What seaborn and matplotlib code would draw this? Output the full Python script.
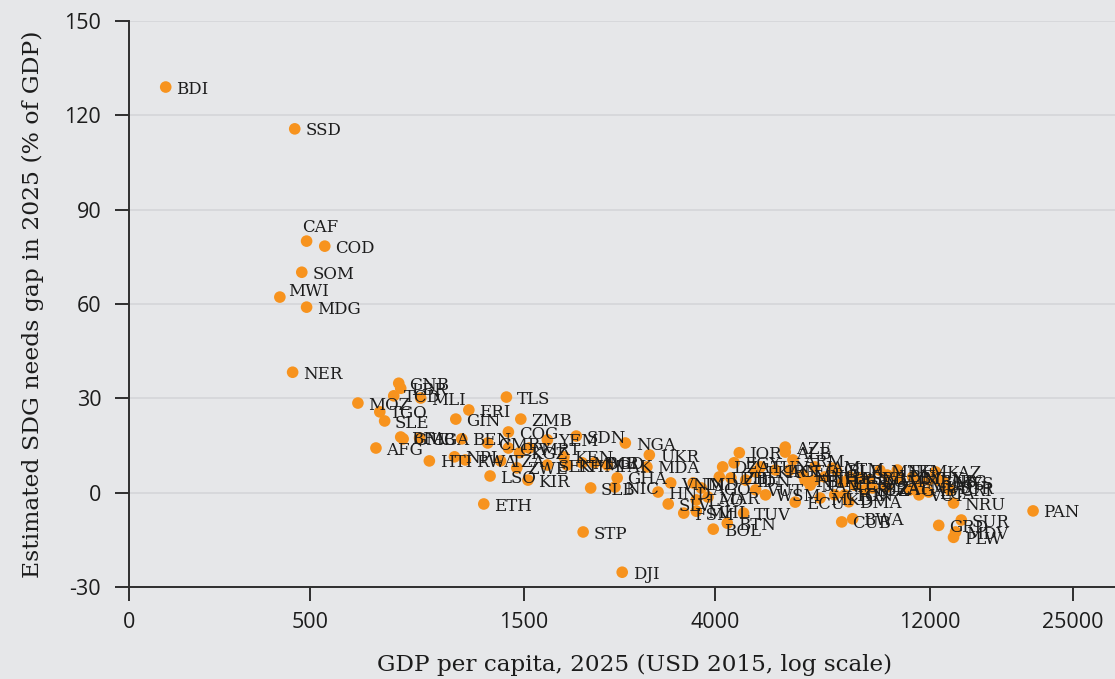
import numpy as np
import pandas as pd
import matplotlib
matplotlib.use("Agg")
import matplotlib.pyplot as plt
import seaborn as sns

# Country codes, GDP per capita 2025 (USD 2015) and estimated SDG needs gap (% of GDP)
codes = [
    "BDI", "SSD", "CAF", "COD", "SOM", "MWI", "MDG", "NER", "GNB", "LBR",
    "TCD", "MLI", "MOZ", "TGO", "SLE", "GIN", "ERI", "TLS", "ZMB", "COG",
    "BFA", "GMB", "UGA", "BEN", "AFG", "HTI", "NPL", "RWA", "TZA", "LSO",
    "ZWE", "KIR", "ETH", "CMR", "CIV", "KGZ", "MRT", "YEM", "SDN", "KEN",
    "SEN", "KHM", "MMR", "BGD", "PAK", "SLB", "NGA", "UKR", "MDA", "GHA",
    "NIC", "HND", "SLV", "FSM", "MHL", "BOL", "BTN", "TUV", "STP", "DJI",
    "VNM", "IND", "LAO", "UZB", "DZA", "EGY", "JOR", "MAR", "AGO", "PHL",
    "IDN", "LKA", "WSM", "TUN", "AZE", "ALB", "ARM", "GEO", "JAM", "GTM",
    "PRY", "SRB", "BLR", "MNE", "TKM", "KAZ", "ECU", "CUB", "BWA", "DMA",
    "CHN", "MKD", "BIH", "THA", "PER", "COL", "DOM", "BRA", "ZAF", "FJI",
    "NAM", "LBY", "MEX", "TUR", "CRI", "MYS", "RUS", "MUS", "ARG", "LCA",
    "VCT", "NRU", "GRD", "SUR", "MDV", "PLW", "PAN", "GAB", "TON", "VUT",
    "IRN", "MNG", "LBN", "BLZ",
]
gdp_pc = [
    239, 463, 492, 540, 480, 429, 492, 458, 789, 797,
    769, 883, 640, 716, 734, 1057, 1130, 1370, 1475, 1384,
    797, 807, 878, 1090, 702, 923, 1050, 1110, 1330, 1260,
    1445, 1530, 1220, 1245, 1384, 1465, 1540, 1690, 1960, 1840,
    1690, 1870, 2020, 2150, 2300, 2110, 2520, 2850, 2815, 2417,
    2390, 2980, 3140, 3400, 3626, 3955, 4250, 4620, 2030, 2480,
    3180, 3570, 3626, 4080, 4150, 4400, 4520, 3850, 3720, 4330,
    4670, 4915, 5170, 5040, 5720, 5720, 5950, 5850, 6660, 7290,
    7960, 8390, 7430, 9290, 10160, 12360, 6020, 7640, 8080, 7920,
    7370, 6840, 6660, 7000, 7680, 8160, 8800, 8940, 9620, 6330,
    6500, 10200, 10990, 13070, 13280, 12880, 11930, 11350, 12550, 11930,
    11350, 13550, 12560, 14100, 13690, 13550, 20370, 10850, 7760, 4915,
    5440, 6270, 9650, 8590,
]
sdg_gap = [
    129.0, 115.7, 80.0, 78.4, 70.1, 62.2, 59.0, 38.3, 34.8, 33.2,
    30.8, 30.1, 28.5, 25.7, 22.8, 23.4, 26.3, 30.4, 23.4, 19.3,
    17.7, 17.1, 17.4, 17.1, 14.2, 10.1, 11.4, 10.4, 10.1, 5.3,
    7.9, 4.0, -3.6, 15.8, 14.2, 12.7, 14.2, 16.8, 18.0, 11.4,
    8.8, 8.8, 9.5, 9.5, 8.8, 1.5, 15.8, 12.0, 8.2, 4.7,
    1.8, 0.2, -3.6, -6.5, -5.9, -11.6, -9.7, -6.5, -12.5, -25.3,
    3.1, 3.1, -2.3, 5.0, 8.2, 9.5, 12.7, -1.4, 1.5, 4.7,
    4.0, 6.6, -0.7, 8.2, 14.5, 12.9, 10.4, 7.2, 8.2, 7.8,
    5.0, 4.7, 7.2, 7.1, 7.2, 6.6, -3.0, -9.3, -8.3, -2.9,
    -0.7, -1.7, 4.0, 5.0, 3.4, 2.4, 4.0, 1.5, 1.8, 4.0,
    2.4, 4.7, 5.0, 1.8, 0.9, 3.4, 4.0, 2.1, 4.0, 0.2,
    -0.7, -3.3, -10.4, -8.7, -12.5, -14.2, -5.8, 0.9, -0.7, 0.9,
    7.2, 5.6, 5.6, 0.9,
]

x_ticks = [500, 1500, 4000, 12000, 25000]
x_min, x_max = 198, 31000
y_ticks = [-30, 0, 30, 60, 90, 120, 150]

df = pd.DataFrame({"code": codes, "gdp": gdp_pc, "gap": sdg_gap})

BG = "#e6e7e9"
INK = "#1c1c1c"
ORANGE = "#f7931e"

sns.set_theme(style="white", rc={
    "axes.facecolor": BG,
    "figure.facecolor": BG,
    "axes.edgecolor": "#2e2e2e",
    "axes.linewidth": 1.4,
    "xtick.color": "#2e2e2e",
    "ytick.color": "#2e2e2e",
    "xtick.major.size": 10,
    "ytick.major.size": 10,
    "xtick.major.width": 1.4,
    "ytick.major.width": 1.4,
    "xtick.bottom": True,
    "ytick.left": True,
})
plt.rcParams["font.family"] = ["Open Sans", "DejaVu Sans"]

fig = plt.figure(figsize=(11.15, 6.79), dpi=100)
ax = fig.add_axes([129 / 1115, 1 - 587 / 679, 1 - 129 / 1115, (587 - 21) / 679])

ax.set_xscale("log")
ax.set_xlim(x_min, x_max)
ax.set_ylim(-30, 150)

for yv in y_ticks:
    ax.axhline(yv, color="#d6d7da", lw=1.3, zorder=0)

sns.scatterplot(data=df, x="gdp", y="gap", ax=ax, color=ORANGE, s=70,
                edgecolor="none", linewidth=0, zorder=3, legend=False)

# Label placement tweaks (offset points) for a few countries
offsets = {"CAF": (-3, 10), "MWI": (6, 4)}
for code, xv, yv in zip(codes, gdp_pc, sdg_gap):
    dx, dy = offsets.get(code, (7.5, -1.5))
    ax.annotate(code, (xv, yv), xytext=(dx, dy), textcoords="offset points",
                ha="left", va="center", fontsize=12, color=INK,
                family="DejaVu Serif", zorder=4)

ax.set_xticks([x_min] + x_ticks)
ax.set_xticklabels(["0"] + [str(v) for v in x_ticks])
ax.xaxis.set_minor_locator(matplotlib.ticker.NullLocator())
ax.set_yticks(y_ticks)
ax.set_yticklabels([str(v) for v in y_ticks])
ax.tick_params(axis="x", labelsize=15.5, pad=8, labelcolor=INK)
ax.tick_params(axis="y", labelsize=15.5, pad=10, labelcolor=INK)

sns.despine(ax=ax, top=True, right=True)
ax.spines["left"].set_bounds(-30, 150)

ax.set_xlabel("GDP per capita, 2025 (USD 2015, log scale)", family="DejaVu Serif",
              fontsize=16.7, color=INK)
ax.xaxis.set_label_coords(0.513, -0.118)
ax.set_ylabel("Estimated SDG needs gap in 2025 (% of GDP)", family="DejaVu Serif",
              fontsize=16.9, color=INK, labelpad=15)

fig.savefig("out.png", dpi=100, facecolor=BG)
